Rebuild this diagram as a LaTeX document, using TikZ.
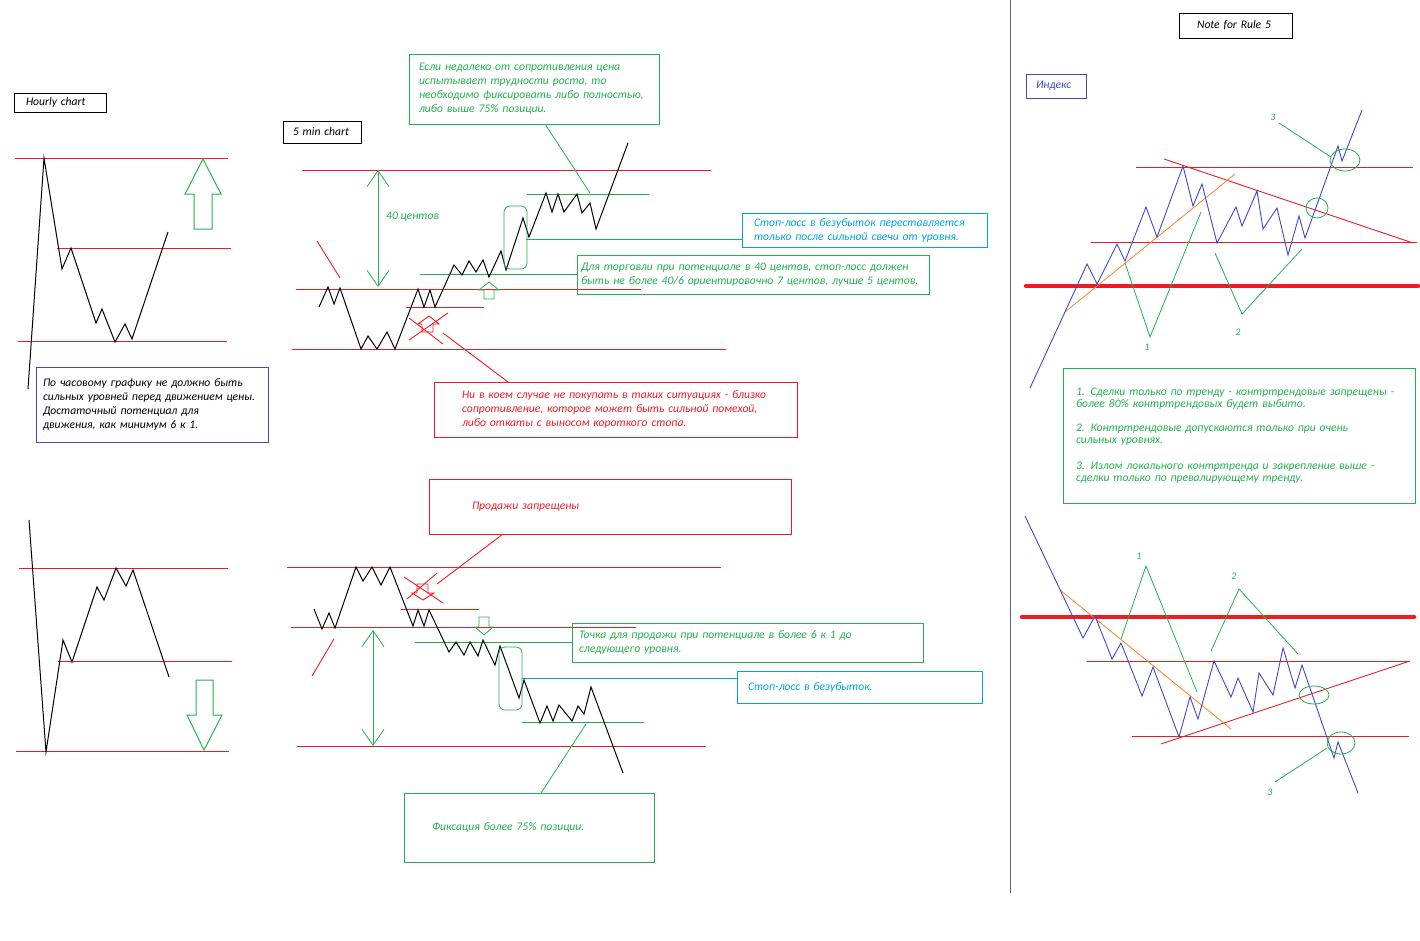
\documentclass[tikz,border=0pt]{standalone}
\usepackage{fontspec}
\setmainfont{Carlito}
\usepackage{tikz}
\usetikzlibrary{arrows.meta}
\definecolor{PRed}{RGB}{237,28,36}
\definecolor{PGreen}{RGB}{34,177,76}
\definecolor{PBlue}{RGB}{0,162,232}
\definecolor{PIndigo}{RGB}{63,72,204}
\definecolor{POrange}{RGB}{255,127,39}
\definecolor{PGray}{RGB}{100,100,100}

\begin{document}
\begin{tikzpicture}[x=1pt, y=-1pt,
    txt/.style={font=\fontsize{11.6}{14}\selectfont\itshape, align=left},
    tbox/.style={txt, draw, line width=0.9pt, anchor=north west,
                 inner ysep=0pt, outer sep=0pt},
    redlvl/.style={PRed, line width=0.9pt},
    biglvl/.style={PRed, line width=4.5pt, line cap=round},
    gline/.style={PGreen, line width=0.8pt},
    bline/.style={PBlue, line width=0.9pt},
    oline/.style={POrange, line width=0.8pt},
    price/.style={black, line width=1pt, line join=miter},
    idx/.style={PIndigo, line width=0.9pt},
    vbarb/.style={gline, {Straight Barb[length=16pt, width=22pt]}-{Straight Barb[length=16pt, width=22pt]}},
    num/.style={txt, PGreen, font=\fontsize{10}{12}\selectfont\itshape}
  ]
  \useasboundingbox (0,0) rectangle (1420,940);
  \draw[PGray, line width=0.9pt] (1010,0) -- (1010,893);

  % hourly chart
  \node[tbox, text width=68pt, inner xsep=12pt, minimum height=19pt] (hourbox) at (14,93) {Hourly chart};
  \foreach \y/\a/\b in {158/15/228, 248/57/231, 341/18/227}
    \draw[redlvl] (\a,\y) -- (\b,\y);
  \draw[price] (28,389) -- (44,158) -- (62,269) -- (71,248) -- (96,323) -- (102,309)
    -- (115,342) -- (125,324) -- (132,339) -- (168,232);
  \draw[gline, line width=1pt] (194,229) -- (194,194) -- (185,194) -- (203,159) -- (221,194)
    -- (212,194) -- (212,229) -- cycle;
  \node[tbox, draw=PIndigo, text width=218pt, inner xsep=7pt, minimum height=75pt] (hourtxt) at (36,367)
    {По часовому графику не должно быть\\сильных уровней перед движением цены.\\
     Достаточный потенциал для\\движения, как минимум 6 к 1.};

  \foreach \y/\a/\b in {568/19/228, 661/58/232, 751/16/229}
    \draw[redlvl] (\a,\y) -- (\b,\y);
  \draw[price] (29,520) -- (46,752) -- (63,640) -- (72,662) -- (97,587) -- (104,600)
    -- (116,568) -- (126,586) -- (133,570) -- (169,677);
  \draw[gline, line width=1pt] (196,680) -- (213,680) -- (213,715) -- (222,715) -- (204,750)
    -- (187,715) -- (196,715) -- cycle;

  % 5 min chart, buying
  \node[tbox, text width=58pt, inner xsep=10pt, minimum height=22pt] (minbox) at (283,121) {5 min chart};
  \node[tbox, draw=PGreen, text=PGreen, text width=230pt, inner xsep=10pt, minimum height=70pt] (fixtop) at (409,54)
    {Если недалеко от сопротивления цена\\испытывает трудности роста, то\\
     необходимо фиксировать либо полностью,\\либо выше 75\% позиции.};
  \node[tbox, draw=PBlue, text=PBlue, text width=221pt, inner xsep=12pt, minimum height=34pt] (stopup) at (742,213)
    {Стоп-лосс в безубыток переставляется\\только после сильной свечи от уровня.};
  \node[tbox, draw=PGreen, text=PGreen, text width=344pt, inner xsep=4pt, minimum height=39pt] (risk) at (577,255)
    {Для торговли при потенциале в 40 центов, стоп-лосс должен\\
     быть не более 40/6 ориентировочно 7 центов, лучше 5 центов.};
  \node[tbox, draw=PRed, text=PRed, text width=307pt, inner xsep=28pt, minimum height=55pt] (nobuy) at (434,382)
    {Ни в коем случае не покупать в таких ситуациях - близко\\
     сопротивление, которое может быть сильной помехой,\\либо откаты с выносом короткого стопа.};

  \foreach \y/\a/\b in {170/302/711, 289/296/641, 349/292/726, 307/406/484}
    \draw[redlvl] (\a,\y) -- (\b,\y);
  \draw[gline] (527,194) -- (649,194);
  \coordinate (rk) at (420,274);
  \draw[gline] (rk) -- (rk -| risk.west);
  \coordinate (bu) at (526,239);
  \draw[bline] (bu) -- (bu -| stopup.west);
  \draw[redlvl] (317,241) -- (340,278);
  \draw[vbarb] (378,170) -- (378,287);
  \node[txt, PGreen, anchor=west, inner sep=0pt] (cents) at (386,217) {40 центов};
  \draw[price] (319,307) -- (328,287) -- (334,304) -- (340,288) -- (361,349) -- (368,336)
    -- (377,349) -- (387,332) -- (395,349) -- (418,289) -- (424,307) -- (430,290)
    -- (435,307) -- (454,265) -- (462,275) -- (469,261) -- (476,272) -- (483,260)
    -- (489,277) -- (501,251) -- (506,270) -- (523,218) -- (529,237) -- (546,193)
    -- (552,212) -- (558,194) -- (564,212) -- (577,194) -- (582,213) -- (590,203)
    -- (596,229) -- (628,143);
  \draw[gline, rounded corners=6pt] (504,206) rectangle (527,269);
  \draw[gline] (484,299) -- (484,290) -- (479,290) -- (489,282) -- (499,290) -- (494,290)
    -- (494,299) -- cycle;
  \draw[redlvl] (422,332) -- (422,324) -- (418,324) -- (429,316) -- (439,324) -- (433,324)
    -- (433,332) -- cycle;
  \draw[redlvl] (409,318) -- (443,344);
  \draw[redlvl] (409,340) -- (448,313);
  \coordinate (bx) at (443,333);
  \draw[redlvl] (bx) -- ([xshift=74pt]nobuy.north west);
  \coordinate (fx) at (590,193);
  \draw[gline] ([xshift=136pt]fixtop.south west) -- (fx);

  % 5 min chart, selling
  \node[tbox, draw=PRed, text=PRed, text width=276pt, inner xsep=43pt, minimum height=55pt] (nosell) at (429,479)
    {Продажи запрещены};
  \node[tbox, draw=PGreen, text=PGreen, text width=337pt, inner xsep=7pt, minimum height=39pt] (sellpt) at (572,623)
    {Точка для продажи при потенциале в более 6 к 1 до\\следующего уровня.};
  \node[tbox, draw=PBlue, text=PBlue, text width=223pt, inner xsep=11pt, minimum height=32pt] (stopdn) at (737,671)
    {Стоп-лосс в безубыток.};
  \node[tbox, draw=PGreen, text=PGreen, text width=194pt, inner xsep=28pt, minimum height=69pt] (fix75) at (404,793)
    {Фиксация более 75\% позиции.};

  \foreach \y/\a/\b in {567/287/721, 609/401/479, 627/291/636, 746/297/706}
    \draw[redlvl] (\a,\y) -- (\b,\y);
  \draw[gline] (522,722) -- (644,722);
  \coordinate (sp) at (415,642);
  \draw[gline] (sp) -- (sp -| sellpt.west);
  \coordinate (bd) at (522,678);
  \draw[bline] (bd) -- (bd -| stopdn.west);
  \draw[redlvl] (312,676) -- (334,639);
  \draw[vbarb] (373,630) -- (373,746);
  \draw[price] (314,609) -- (322,629) -- (329,613) -- (335,628) -- (356,567) -- (363,581)
    -- (372,567) -- (381,585) -- (390,567) -- (413,626) -- (418,610) -- (424,626)
    -- (429,610) -- (449,652) -- (456,642) -- (464,655) -- (470,642) -- (478,656)
    -- (483,640) -- (495,665) -- (500,646) -- (519,698) -- (524,680) -- (540,723)
    -- (547,706) -- (553,721) -- (559,705) -- (572,721) -- (578,706) -- (584,714)
    -- (591,687) -- (623,773);
  \draw[gline, rounded corners=6pt] (499,647) rectangle (522,710);
  \draw[gline] (479,617) -- (489,617) -- (489,627) -- (493,627) -- (484,635) -- (475,627)
    -- (479,627) -- cycle;
  \draw[redlvl] (417,584) -- (428,584) -- (428,593) -- (434,593) -- (423,600) -- (412,593)
    -- (417,593) -- cycle;
  \draw[redlvl] (404,577) -- (443,603);
  \draw[redlvl] (407,599) -- (437,573);
  \coordinate (sx) at (437,584);
  \draw[redlvl] ([xshift=74pt]nosell.south west) -- (sx);
  \coordinate (fy) at (586,724);
  \draw[gline] ([xshift=137pt]fix75.north west) -- (fy);

  % note for rule 5
  \node[tbox, text width=77pt, inner xsep=18pt, minimum height=25pt] (notebox) at (1179,13) {Note for Rule 5};
  \node[tbox, draw=PIndigo, text=PIndigo, text width=40pt, inner xsep=10pt, minimum height=24pt] (idxbox) at (1026,74) {Индекс};
  \node[tbox, draw=PGreen, text=PGreen, text width=326pt, inner xsep=13pt, minimum height=135pt,
        font=\fontsize{11.6}{12}\selectfont\itshape] (rules) at (1063,368)
    {1. Сделки только по тренду - контртрендовые запрещены -\\более 80\% контртрендовых будет выбито.\\[12pt]
     2. Контртрендовые допускаются только при очень\\сильных уровнях.\\[14pt]
     3. Излом локального контртренда и закрепление выше -\\сделки только по превалирующему тренду.};

  \draw[biglvl] (1026,286) -- (1418,286);
  \foreach \y/\a/\b in {167/1136/1413, 242/1091/1417}
    \draw[redlvl] (\a,\y) -- (\b,\y);
  \draw[redlvl] (1164,159) -- (1413,243);
  \draw[oline] (1065,312) -- (1235,174);
  \draw[idx] (1030,388) -- (1087,264) -- (1097,284) -- (1117,244) -- (1125,261) -- (1146,207)
    -- (1157,237) -- (1183,166) -- (1193,206) -- (1202,184) -- (1217,243) -- (1236,207)
    -- (1242,226) -- (1257,191) -- (1263,229) -- (1277,208) -- (1288,255) -- (1299,216)
    -- (1305,238) -- (1338,146) -- (1342,161) -- (1362,110);
  \draw[gline] (1125,263) -- (1150,337) -- (1201,212);
  \draw[gline] (1215,253) -- (1242,314) -- (1302,249);
  \draw[gline] (1345,160) ellipse [x radius=15pt, y radius=11pt];
  \draw[gline] (1317,208) ellipse [x radius=11pt, y radius=10pt];
  \node[num] (up1) at (1147,347) {1};
  \node[num] (up2) at (1238,332) {2};
  \node[num] (up3) at (1273,117) {3};
  \coordinate (u3) at (1331,157);
  \draw[gline] (1279,123) -- (u3);

  \draw[biglvl] (1022,617) -- (1414,617);
  \foreach \y/\a/\b in {661/1087/1410, 736/1132/1409}
    \draw[redlvl] (\a,\y) -- (\b,\y);
  \draw[redlvl] (1161,744) -- (1410,661);
  \draw[oline] (1060,590) -- (1231,729);
  \draw[idx] (1025,516) -- (1083,638) -- (1095,616) -- (1112,659) -- (1121,643) -- (1142,696)
    -- (1153,667) -- (1179,737) -- (1190,697) -- (1198,719) -- (1214,661) -- (1231,697)
    -- (1238,678) -- (1253,712) -- (1259,673) -- (1273,695) -- (1283,648) -- (1295,688)
    -- (1302,665) -- (1334,758) -- (1338,742) -- (1358,793);
  \draw[gline] (1121,639) -- (1146,566) -- (1197,692);
  \draw[gline] (1211,651) -- (1239,589) -- (1298,654);
  \draw[gline] (1314,695) ellipse [x radius=15pt, y radius=9pt];
  \draw[gline] (1341,743) ellipse [x radius=14pt, y radius=11pt];
  \node[num] (dn1) at (1139,556) {1};
  \node[num] (dn2) at (1234,576) {2};
  \node[num] (dn3) at (1270,792) {3};
  \coordinate (d3) at (1327,748);
  \draw[gline] (1275,782) -- (d3);
\end{tikzpicture}
\end{document}
